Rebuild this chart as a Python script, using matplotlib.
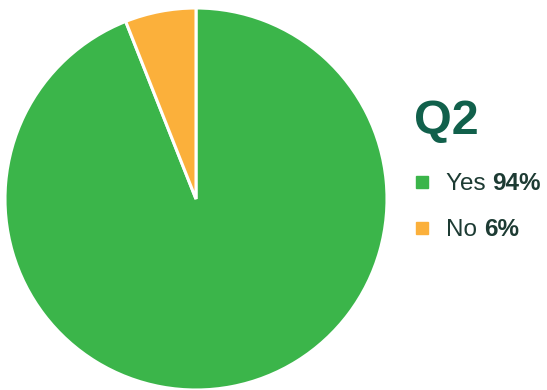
import matplotlib
matplotlib.use('Agg')
import matplotlib.pyplot as plt
from matplotlib.patches import Rectangle

labels = ['Yes', 'No']
values = [94, 6]
colors = ['#3bb54a', '#fbb03b']
title = 'Q2'

plt.rcParams['font.family'] = ['Liberation Sans', 'DejaVu Sans']

W, H = 547, 390
fig = plt.figure(figsize=(W / 100, H / 100), dpi=100)

# pie centre ~ (196,199) px, radius ~191 px
cx, cy, r = 196, 199, 191
ax = fig.add_axes([(cx - r) / W, (H - cy - r) / H, 2 * r / W, 2 * r / H])
ax.pie(values, colors=colors, startangle=90, counterclock=False,
       wedgeprops=dict(edgecolor='white', linewidth=2.2))
ax.set_xlim(-1, 1)
ax.set_ylim(-1, 1)
ax.set_aspect('equal')
ax.axis('off')

txt_col = '#1d3b33'
fig.text(414 / W, 1 - 134 / H, title, fontsize=35, fontweight='bold',
         color='#11604b', ha='left', va='baseline')

rows_y = [182, 228]
for lab, val, col, y in zip(labels, values, colors, rows_y):
    fig.patches.append(Rectangle((416 / W, 1 - (y + 6) / H), 12 / W, 12 / H,
                                 transform=fig.transFigure, color=col))
    t = fig.text(446 / W, 1 - (y + 8) / H, lab + ' ', fontsize=17.5,
                 color=txt_col, ha='left', va='baseline')
    fig.canvas.draw()
    bb = t.get_window_extent()
    fig.text(bb.x1 / W, 1 - (y + 8) / H, f'{val}%', fontsize=17.5,
             fontweight='bold', color=txt_col, ha='left', va='baseline')

fig.savefig('out.png', dpi=100)
